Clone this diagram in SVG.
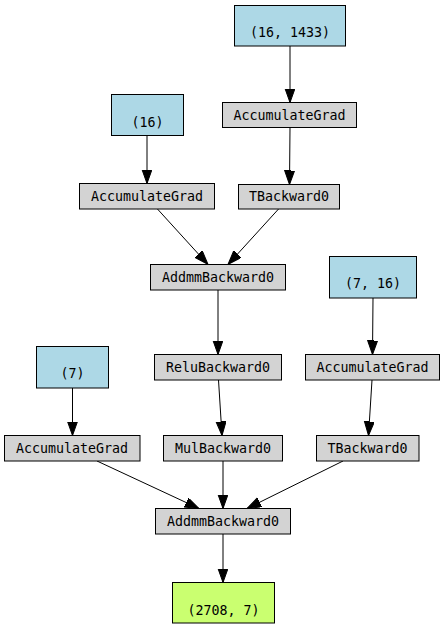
<svg xmlns="http://www.w3.org/2000/svg" width="445" height="629" viewBox="0 0 445 629">
<style>
.b{stroke:#000;stroke-width:1}
.leaf{fill:#add8e6}
.op{fill:#d3d3d3}
.out{fill:#caff70}
text{font-family:"DejaVu Sans Mono","Liberation Mono",monospace;font-size:13.3px;text-anchor:middle;fill:#000}
.e{stroke:#000;stroke-width:1;fill:none;marker-end:url(#ah)}
</style>
<defs>
<marker id="ah" markerUnits="userSpaceOnUse" markerWidth="16" markerHeight="12" refX="14" refY="5" orient="auto">
<path d="M0,0 L14,5 L0,10 z" fill="#000" stroke="#000" stroke-width="1"/>
</marker>
</defs>
<rect width="445" height="629" fill="#fff"/>
<g id="edges">
<line class="e" x1="290" y1="46" x2="290" y2="102.5"/>
<line class="e" x1="290" y1="127.5" x2="289.5" y2="184.5"/>
<line class="e" x1="147" y1="135.5" x2="147" y2="183.5"/>
<line class="e" x1="157" y1="208.5" x2="208" y2="264.5"/>
<line class="e" x1="279" y1="208.5" x2="228" y2="264.5"/>
<line class="e" x1="218" y1="290" x2="218" y2="354.5"/>
<line class="e" x1="373" y1="298" x2="372.5" y2="354.5"/>
<line class="e" x1="218.5" y1="380" x2="222" y2="435.5"/>
<line class="e" x1="372" y1="380" x2="368.5" y2="435.5"/>
<line class="e" x1="72.5" y1="388" x2="72.5" y2="435.5"/>
<line class="e" x1="97" y1="461" x2="199" y2="508.5"/>
<line class="e" x1="223" y1="461" x2="223" y2="508.5"/>
<line class="e" x1="343" y1="461" x2="247" y2="508.5"/>
<line class="e" x1="223" y1="534" x2="223" y2="582.5"/>
</g>
<g id="n_16_1433"><rect class="b leaf" x="234.5" y="5.5" width="111" height="40.5"/><text x="290" y="36.5">(16, 1433)</text></g>
<g id="acc_top"><rect class="b op" x="222.5" y="102.5" width="134" height="25"/><text x="289.5" y="119.5">AccumulateGrad</text></g>
<g id="tb_top"><rect class="b op" x="238.5" y="184.5" width="101" height="24.5"/><text x="289" y="201">TBackward0</text></g>
<g id="n_16"><rect class="b leaf" x="111.5" y="94.5" width="72" height="41"/><text x="147.5" y="127">(16)</text></g>
<g id="acc_left"><rect class="b op" x="79.5" y="183.5" width="135" height="25.5"/><text x="147" y="200.5">AccumulateGrad</text></g>
<g id="addmm_up"><rect class="b op" x="150.5" y="264.5" width="135" height="25.5"/><text x="218" y="281.5">AddmmBackward0</text></g>
<g id="n_7_16"><rect class="b leaf" x="329.5" y="256.5" width="87" height="41.5"/><text x="373" y="288">(7, 16)</text></g>
<g id="acc_right"><rect class="b op" x="305.5" y="354.5" width="134" height="25.5"/><text x="372.5" y="371.5">AccumulateGrad</text></g>
<g id="relu"><rect class="b op" x="154.5" y="354.5" width="127" height="25.5"/><text x="218" y="371.5">ReluBackward0</text></g>
<g id="n_7"><rect class="b leaf" x="36.5" y="346.5" width="72" height="41.5"/><text x="72.5" y="378">(7)</text></g>
<g id="acc_bl"><rect class="b op" x="4.5" y="435.5" width="135.5" height="25.5"/><text x="72" y="452.5">AccumulateGrad</text></g>
<g id="mul"><rect class="b op" x="163.5" y="435.5" width="119" height="25.5"/><text x="223" y="452.5">MulBackward0</text></g>
<g id="tb_low"><rect class="b op" x="316.5" y="435.5" width="102.5" height="25.5"/><text x="367.5" y="452.5">TBackward0</text></g>
<g id="addmm_low"><rect class="b op" x="155.5" y="508.5" width="135" height="25.5"/><text x="223" y="525.5">AddmmBackward0</text></g>
<g id="out"><rect class="b out" x="172.5" y="582.5" width="102" height="40.5"/><text x="223.5" y="615">(2708, 7)</text></g>
</svg>
